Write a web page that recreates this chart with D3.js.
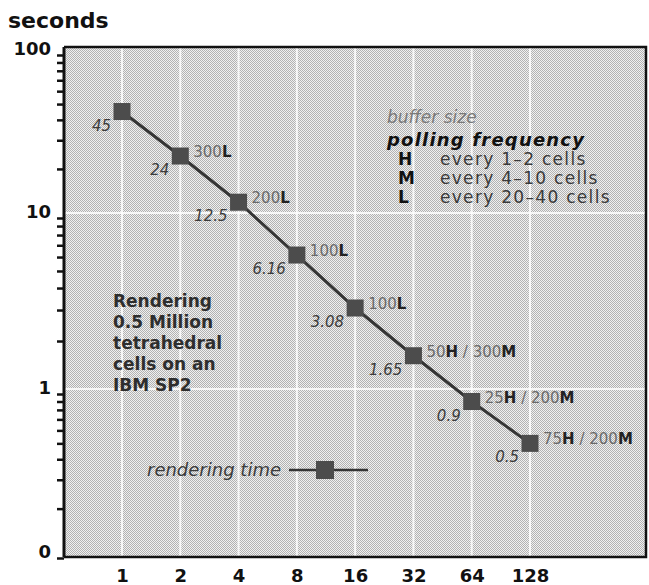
<!DOCTYPE html>
<html>
<head>
<meta charset="utf-8">
<script src="https://d3js.org/d3.v7.min.js"></script>
<style>
  body { margin: 0; background: #fff; }
  text { font-family: 'DejaVu Sans', sans-serif; white-space: pre; }
</style>
</head>
<body>
<svg id="chart"></svg>
<script>
const processors = [1, 2, 4, 8, 16, 32, 64, 128]
const renderTimes = [45, 24, 12.5, 6.16, 3.08, 1.65, 0.9, 0.5]
const timeLabels = ['45', '24', '12.5', '6.16', '3.08', '1.65', '0.9', '0.5']
const bufferLabels = ['', '300L', '200L', '100L', '100L', '50H / 300M', '25H / 200M', '75H / 200M']
const yTickValues = [0.1, 1, 10, 100]
const yTickLabels = ['0', '1', '10', '100']
const pollingCodes = ['H', 'M', 'L']
const pollingText = ['every 1\u20132 cells', 'every 4\u201310 cells', 'every 20\u201340 cells']
const noteLines = ['Rendering', '0.5 Million', 'tetrahedral', 'cells on an', 'IBM SP2']

document.addEventListener('DOMContentLoaded', function () {
  const width = 649
  const height = 585
  const box = { left: 64, top: 47, right: 646, bottom: 557 }

  const colours = {
    black: '#111111',
    line: '#353535',
    marker: '#4c4c4c',
    value: '#3c3c3c',
    light: '#6a6a6a'
  }

  const svg = d3.select('#chart')
    .attr('width', width)
    .attr('height', height)

  const defs = svg.append('defs')
  const pat = defs.append('pattern')
    .attr('id', 'halftone')
    .attr('width', 2)
    .attr('height', 2)
    .attr('patternUnits', 'userSpaceOnUse')
  pat.append('rect').attr('width', 2).attr('height', 2).attr('fill', '#f0f0f0')
  pat.append('rect').attr('width', 1).attr('height', 1).attr('fill', '#b2b2b2')
  pat.append('rect').attr('x', 1).attr('y', 1).attr('width', 1).attr('height', 1).attr('fill', '#b2b2b2')

  defs.append('clipPath').attr('id', 'plotClip')
    .append('rect')
    .attr('x', box.left).attr('y', box.top)
    .attr('width', box.right - box.left).attr('height', box.bottom - box.top)

  const x = d3.scaleLog().base(2)
    .domain([1, 128])
    .range([122, 530])

  // the printed axis is not a clean log scale, so keep one segment per decade
  const y = d3.scaleLog()
    .domain([0.1, 1, 10, 100])
    .range([558, 394, 218, 55])

  // background
  svg.append('rect')
    .attr('x', box.left).attr('y', box.top)
    .attr('width', box.right - box.left).attr('height', box.bottom - box.top)
    .attr('fill', 'url(#halftone)')

  const grid = svg.append('g').attr('clip-path', 'url(#plotClip)')
  grid.selectAll('line.v')
    .data(processors)
    .enter()
    .append('line')
    .attr('class', 'v')
    .attr('x1', d => x(d)).attr('x2', d => x(d))
    .attr('y1', box.top).attr('y2', box.bottom)
    .attr('stroke', '#fff').attr('stroke-width', 2).attr('opacity', 0.85)
  grid.selectAll('line.h')
    .data([1, 10])
    .enter()
    .append('line')
    .attr('class', 'h')
    .attr('y1', d => y(d) - 5).attr('y2', d => y(d) - 5)
    .attr('x1', box.left).attr('x2', box.right)
    .attr('stroke', '#fff').attr('stroke-width', 2).attr('opacity', 0.85)

  // frame
  svg.append('path')
    .attr('d', `M${box.left},${box.top}H${box.right}V${box.bottom}H${box.left}`)
    .attr('fill', 'none').attr('stroke', colours.black).attr('stroke-width', 2.5)

  // y axis with minor ticks
  const minor = []
  yTickValues.slice(0, 3).forEach(v => {
    for (let k = 2; k < 10; k++) minor.push(v * k)
  })
  const yAxis = svg.append('g')
    .attr('transform', `translate(${box.left},0)`)
    .call(d3.axisLeft(y)
      .tickValues(yTickValues.concat(minor))
      .tickSize(7)
      .tickPadding(6)
      .tickFormat(d => {
        const i = yTickValues.indexOf(d)
        return i < 0 ? '' : yTickLabels[i]
      }))
  yAxis.select('.domain')
    .attr('d', `M0,${box.top}V${box.bottom}`)
    .attr('stroke', colours.black).attr('stroke-width', 3)
  yAxis.selectAll('.tick line').attr('stroke', colours.black).attr('stroke-width', 2.5)
  yAxis.selectAll('.tick text')
    .attr('font-family', 'DejaVu Sans')
    .attr('font-size', 18).attr('font-weight', 'bold')
    .attr('fill', colours.black)
    .attr('dy', '-0.05em')

  svg.append('text')
    .attr('x', 8).attr('y', 28)
    .attr('font-size', 22).attr('font-weight', 'bold')
    .attr('fill', colours.black)
    .text('seconds')

  // x axis
  const xAxis = svg.append('g')
    .attr('transform', `translate(0,${box.bottom})`)
    .call(d3.axisBottom(x)
      .tickValues(processors)
      .tickSize(0)
      .tickPadding(12)
      .tickFormat(d => d))
  xAxis.select('.domain').remove()
  xAxis.selectAll('.tick text')
    .attr('font-family', 'DejaVu Sans')
    .attr('font-size', 18).attr('font-weight', 'bold')
    .attr('fill', colours.black)

  // series
  const points = processors.map((p, i) => ({ p: p, t: renderTimes[i], label: timeLabels[i], buffer: bufferLabels[i] }))

  const line = d3.line().x(d => x(d.p)).y(d => y(d.t))
  svg.append('path')
    .datum(points)
    .attr('d', line)
    .attr('fill', 'none')
    .attr('stroke', colours.line)
    .attr('stroke-width', 3)

  const size = 17
  svg.append('g')
    .selectAll('rect')
    .data(points)
    .enter()
    .append('rect')
    .attr('x', d => x(d.p) - size / 2)
    .attr('y', d => y(d.t) - size / 2)
    .attr('width', size).attr('height', size)
    .attr('fill', colours.marker)

  svg.append('g')
    .selectAll('text')
    .data(points)
    .enter()
    .append('text')
    .attr('x', d => x(d.p) - 11)
    .attr('y', d => y(d.t) + 19)
    .attr('text-anchor', 'end')
    .attr('font-size', 15).attr('font-style', 'italic')
    .attr('fill', colours.value)
    .text(d => d.label)

  const buffers = svg.append('g')
    .selectAll('text')
    .data(points.filter(d => d.buffer))
    .enter()
    .append('text')
    .attr('x', d => x(d.p) + 13)
    .attr('y', d => y(d.t) + 1)
    .attr('font-size', 15)
  buffers.selectAll('tspan')
    .data(d => d.buffer.split(/([HML])/).filter(s => s))
    .enter()
    .append('tspan')
    .attr('font-weight', s => /^[HML]$/.test(s) ? 'bold' : 'normal')
    .attr('fill', s => /^[HML]$/.test(s) ? '#222' : colours.light)
    .text(s => s)

  // legend, upper right
  const legend = svg.append('g').attr('clip-path', 'url(#plotClip)')
  legend.append('text')
    .attr('x', 387).attr('y', 123)
    .attr('font-size', 17).attr('font-style', 'italic')
    .attr('fill', '#7a7a7a')
    .text('buffer size')
  legend.append('text')
    .attr('x', 387).attr('y', 146)
    .attr('font-size', 18).attr('font-style', 'italic').attr('font-weight', 'bold')
    .attr('letter-spacing', 1.2)
    .attr('fill', colours.black)
    .text('polling frequency')
  legend.selectAll('text.code')
    .data(pollingCodes)
    .enter()
    .append('text')
    .attr('class', 'code')
    .attr('x', 398)
    .attr('y', (d, i) => 165 + i * 19)
    .attr('font-size', 17).attr('font-weight', 'bold')
    .attr('fill', colours.black)
    .text(d => d)
  legend.selectAll('text.desc')
    .data(pollingText)
    .enter()
    .append('text')
    .attr('class', 'desc')
    .attr('x', 440)
    .attr('y', (d, i) => 165 + i * 19)
    .attr('font-size', 17)
    .attr('letter-spacing', 1.3)
    .attr('fill', '#3a3a3a')
    .text(d => d)

  // note block
  svg.append('g')
    .selectAll('text')
    .data(noteLines)
    .enter()
    .append('text')
    .attr('x', 113)
    .attr('y', (d, i) => 307 + i * 21)
    .attr('font-size', 17).attr('font-weight', 'bold')
    .attr('fill', '#2e2e2e')
    .text(d => d)

  // series key
  const key = svg.append('g').attr('transform', 'translate(0,470)')
  key.append('text')
    .attr('x', 281).attr('y', 6)
    .attr('text-anchor', 'end')
    .attr('font-size', 18).attr('font-style', 'italic')
    .attr('fill', colours.value)
    .text('rendering time')
  key.append('line')
    .attr('x1', 289).attr('x2', 368)
    .attr('stroke', colours.line).attr('stroke-width', 2.5)
  key.append('rect')
    .attr('x', 316).attr('y', -9)
    .attr('width', 18).attr('height', 18)
    .attr('fill', colours.marker)
}, false)
</script>
</body>
</html>
